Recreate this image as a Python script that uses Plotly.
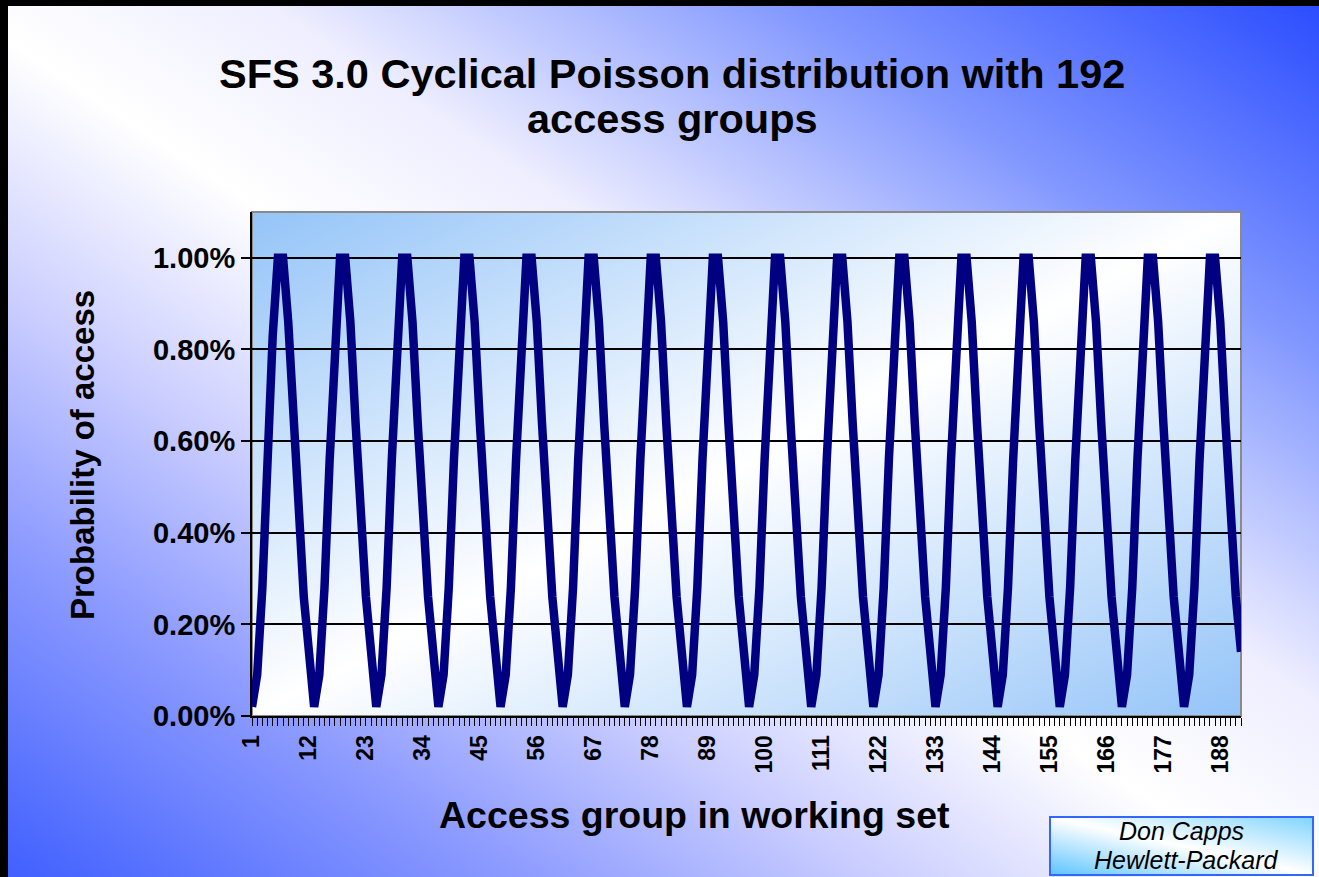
import base64
import plotly.graph_objects as go

# ---------------- data ----------------
access_group = list(range(1, 193))
probability_pct = [
    0.02, 0.09, 0.28, 0.56, 0.83, 1.00, 1.00, 0.86, 0.64, 0.43, 0.26, 0.14,
    0.02, 0.09, 0.28, 0.56, 0.83, 1.00, 1.00, 0.86, 0.64, 0.43, 0.26, 0.14,
    0.02, 0.09, 0.28, 0.56, 0.83, 1.00, 1.00, 0.86, 0.64, 0.43, 0.26, 0.14,
    0.02, 0.09, 0.28, 0.56, 0.83, 1.00, 1.00, 0.86, 0.64, 0.43, 0.26, 0.14,
    0.02, 0.09, 0.28, 0.56, 0.83, 1.00, 1.00, 0.86, 0.64, 0.43, 0.26, 0.14,
    0.02, 0.09, 0.28, 0.56, 0.83, 1.00, 1.00, 0.86, 0.64, 0.43, 0.26, 0.14,
    0.02, 0.09, 0.28, 0.56, 0.83, 1.00, 1.00, 0.86, 0.64, 0.43, 0.26, 0.14,
    0.02, 0.09, 0.28, 0.56, 0.83, 1.00, 1.00, 0.86, 0.64, 0.43, 0.26, 0.14,
    0.02, 0.09, 0.28, 0.56, 0.83, 1.00, 1.00, 0.86, 0.64, 0.43, 0.26, 0.14,
    0.02, 0.09, 0.28, 0.56, 0.83, 1.00, 1.00, 0.86, 0.64, 0.43, 0.26, 0.14,
    0.02, 0.09, 0.28, 0.56, 0.83, 1.00, 1.00, 0.86, 0.64, 0.43, 0.26, 0.14,
    0.02, 0.09, 0.28, 0.56, 0.83, 1.00, 1.00, 0.86, 0.64, 0.43, 0.26, 0.14,
    0.02, 0.09, 0.28, 0.56, 0.83, 1.00, 1.00, 0.86, 0.64, 0.43, 0.26, 0.14,
    0.02, 0.09, 0.28, 0.56, 0.83, 1.00, 1.00, 0.86, 0.64, 0.43, 0.26, 0.14,
    0.02, 0.09, 0.28, 0.56, 0.83, 1.00, 1.00, 0.86, 0.64, 0.43, 0.26, 0.14,
    0.02, 0.09, 0.28, 0.56, 0.83, 1.00, 1.00, 0.86, 0.64, 0.43, 0.26, 0.14,
]
x_tick_values = [1, 12, 23, 34, 45, 56, 67, 78, 89, 100, 111, 122, 133, 144, 155, 166, 177, 188]
y_tick_values = [0.0, 0.2, 0.4, 0.6, 0.8, 1.0]
y_tick_labels = ["0.00%", "0.20%", "0.40%", "0.60%", "0.80%", "1.00%"]

title_line1 = "SFS 3.0 Cyclical Poisson distribution with 192"
title_line2 = "access groups"
x_title = "Access group in working set"
y_title = "Probability of access"
credit_line1 = "Don Capps"
credit_line2 = "Hewlett-Packard"

# ---------------- geometry ----------------
W, H = 1319, 877
L, R, T, B = 252, 78, 212, 161
PW, PH = W - L - R, H - T - B


def px(xp):
    return (xp - L) / PW


def py(yp):
    return (H - B - yp) / PH


# ---------------- decorative background (gradients) ----------------
svg = f"""<svg xmlns='http://www.w3.org/2000/svg' width='{W}' height='{H}' viewBox='0 0 {W} {H}' preserveAspectRatio='none'>
<defs>
<linearGradient id='bg' x1='0' y1='1' x2='1' y2='0'>
<stop offset='0' stop-color='#3f5fff'/>
<stop offset='0.2' stop-color='#8e9cff'/>
<stop offset='0.34' stop-color='#cdd0ff'/>
<stop offset='0.48' stop-color='#ffffff'/>
<stop offset='0.6' stop-color='#eeeeff'/>
<stop offset='0.8' stop-color='#8096ff'/>
<stop offset='1' stop-color='#2a4cff'/>
</linearGradient>
<linearGradient id='pa' x1='0' y1='0' x2='1' y2='1'>
<stop offset='0' stop-color='#94c4f8'/>
<stop offset='0.5' stop-color='#ffffff'/>
<stop offset='1' stop-color='#94c4f8'/>
</linearGradient>
<linearGradient id='bx' x1='0' y1='1' x2='1' y2='0'>
<stop offset='0' stop-color='#5cc4ff'/>
<stop offset='0.5' stop-color='#ffffff'/>
<stop offset='1' stop-color='#7fd4ff'/>
</linearGradient>
</defs>
<rect x='0' y='0' width='{W}' height='{H}' fill='url(#bg)'/>
<rect x='0' y='0' width='{W}' height='6' fill='#000000'/>
<rect x='0' y='0' width='8' height='{H}' fill='#000000'/>
<rect x='{L}' y='{T}' width='{PW}' height='{PH}' fill='url(#pa)' stroke='#8a8a8a' stroke-width='2'/>
<rect x='1050' y='817' width='263' height='58' fill='url(#bx)' stroke='#3366ff' stroke-width='2'/>
</svg>"""
svg_uri = "data:image/svg+xml;base64," + base64.b64encode(svg.encode()).decode()

# ---------------- figure ----------------
fig = go.Figure()
fig.add_trace(go.Scatter(
    x=access_group, y=probability_pct, mode="lines",
    line=dict(color="#000080", width=8.5),
    hoverinfo="x+y", showlegend=False,
))

FONT = "Liberation Sans, Arial, sans-serif"

fig.update_layout(
    width=W, height=H,
    margin=dict(l=L, r=R, t=T, b=B, pad=0),
    paper_bgcolor="rgba(0,0,0,0)",
    plot_bgcolor="rgba(0,0,0,0)",
    showlegend=False,
    images=[dict(
        source=svg_uri, xref="paper", yref="paper",
        x=px(0), y=py(0), sizex=W / PW, sizey=H / PH,
        xanchor="left", yanchor="top", sizing="stretch", layer="below",
    )],
    xaxis=dict(
        range=[1, 192], tickmode="array", tickvals=x_tick_values,
        ticktext=[str(v) for v in x_tick_values], tickangle=-90,
        ticks="outside", ticklen=8, tickwidth=1, tickcolor="#000000",
        minor=dict(dtick=1, tick0=1, ticks="outside", ticklen=8,
                   tickwidth=1, tickcolor="#000000", showgrid=False),
        showgrid=False, zeroline=False,
        showline=True, linecolor="#000000", linewidth=2,
        tickfont=dict(family=FONT, size=23, color="#000000", weight=700),
    ),
    yaxis=dict(
        range=[0, 1.1], tickmode="array", tickvals=y_tick_values,
        ticktext=y_tick_labels,
        ticks="outside", ticklen=9, tickwidth=1.5, tickcolor="#000000",
        showgrid=True, gridcolor="#000000", gridwidth=1.5, zeroline=False,
        showline=True, linecolor="#000000", linewidth=2,
        tickfont=dict(family=FONT, size=29, color="#000000", weight=700),
    ),
    annotations=[
        dict(text=title_line1, x=px(672), y=py(73), xref="paper", yref="paper",
             xanchor="center", yanchor="middle", showarrow=False,
             font=dict(family=FONT, size=41.5, color="#000000", weight=700)),
        dict(text=title_line2, x=px(672), y=py(118), xref="paper", yref="paper",
             xanchor="center", yanchor="middle", showarrow=False,
             font=dict(family=FONT, size=41.5, color="#000000", weight=700)),
        dict(text=y_title, x=px(82), y=py(455), xref="paper", yref="paper",
             xanchor="center", yanchor="middle", showarrow=False, textangle=-90,
             font=dict(family=FONT, size=33, color="#000000", weight=700)),
        dict(text=x_title, x=px(694), y=py(815), xref="paper", yref="paper",
             xanchor="center", yanchor="middle", showarrow=False,
             font=dict(family=FONT, size=37.5, color="#000000", weight=700)),
        dict(text="<i>" + credit_line1 + "</i>", x=px(1181), y=py(831), xref="paper", yref="paper",
             xanchor="center", yanchor="middle", showarrow=False,
             font=dict(family=FONT, size=25, color="#000000")),
        dict(text="<i>" + credit_line2 + "</i>", x=px(1186), y=py(860), xref="paper", yref="paper",
             xanchor="center", yanchor="middle", showarrow=False,
             font=dict(family=FONT, size=25, color="#000000")),
    ],
)

fig.write_html(
    "out.html",
    config={"displayModeBar": False},
    post_script="document.body.style.margin='0';document.body.style.padding='0';document.body.style.overflow='hidden';",
)
